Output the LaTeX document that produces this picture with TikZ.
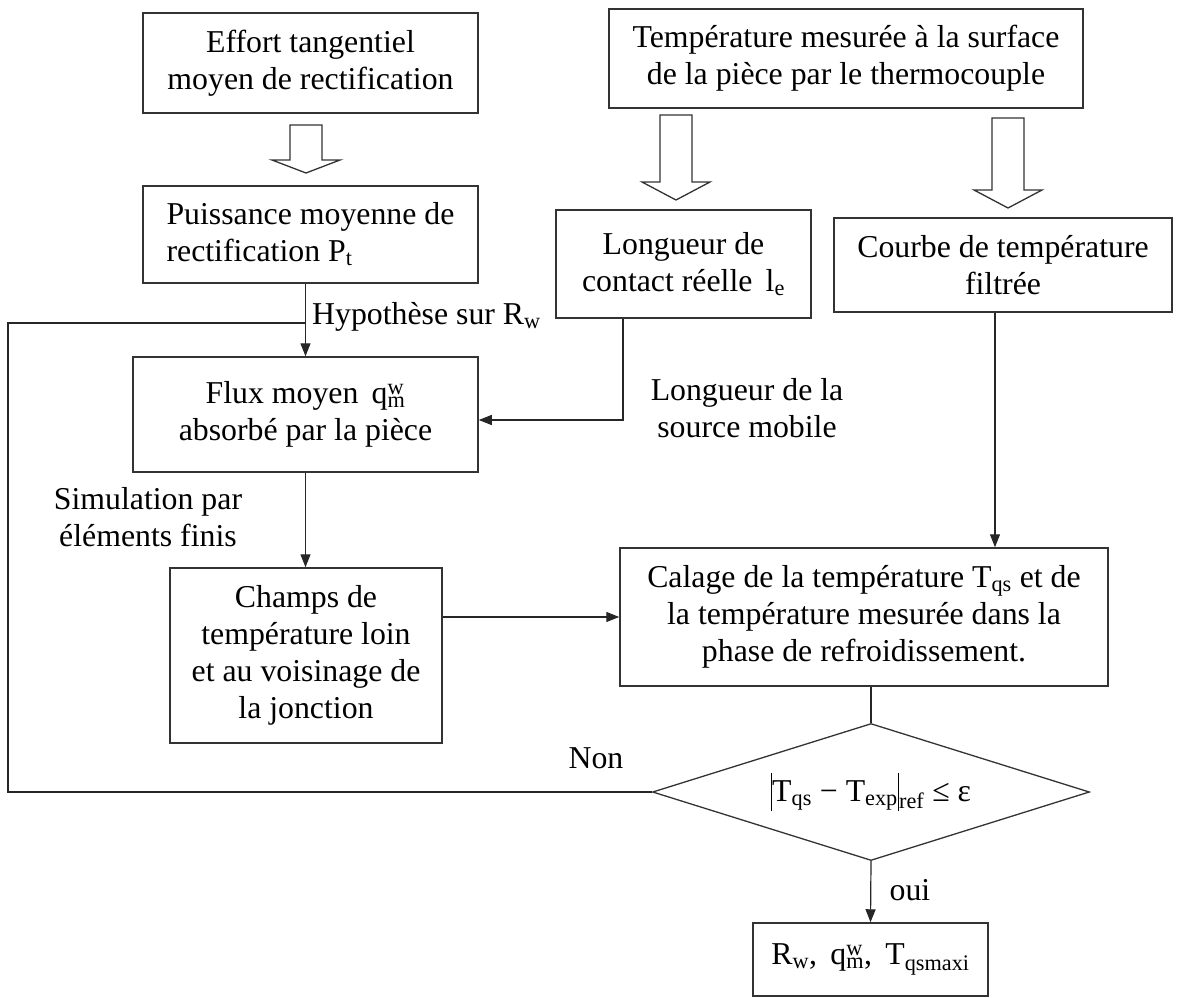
\documentclass[tikz,border=0pt]{standalone}
\usepackage{fontspec}
\setmainfont{Liberation Serif}
\usetikzlibrary{arrows.meta,shapes.geometric}

\newcommand{\flowfont}{\fontsize{31.8pt}{37pt}\selectfont}
\newcommand{\qmw}{q\rlap{\textsuperscript{w}}\textsubscript{m}}
\newcommand{\vbar}{\rule[-0.3em]{1.3pt}{1.2em}}
% hollow arrow: x, top, neck, tip
\newcommand{\hollowarrow}[4]{\draw[hollow] (#1-16,#2) -- (#1+16,#2) -- (#1+16,#3) -- (#1+34,#3) -- (#1,#4) -- (#1-34,#3) -- (#1-16,#3) -- cycle;}

\tikzset{
  box/.style={draw=black!80, line width=1.5pt, align=center, inner sep=0pt, font=\flowfont},
  lbl/.style={align=center, inner sep=0pt, font=\flowfont},
  decision/.style={diamond, aspect=3.19, draw=black!80, line width=1.3pt, inner sep=0pt, font=\flowfont},
  link/.style={draw=black!85, line width=1.2pt},
  arr/.style={link, -{Triangle[length=13pt,width=10pt]}},
  hollow/.style={draw=black!80, line width=1.3pt, fill=white},
}

\begin{document}
\begin{tikzpicture}[x=1pt,y=-1pt]
\useasboundingbox (0,0) rectangle (1177,997);

% left column
\node[box, minimum width=335pt, minimum height=100pt] (eff) at (310.5,63) {Effort tangentiel\\moyen de rectification};
\node[box, align=left, minimum width=335pt, minimum height=97pt] (puis) at (310.5,234.5) {Puissance moyenne de\\rectification P\textsubscript{t}};
\node[box, minimum width=345pt, minimum height=115pt] (flux) at (305.5,414.5) {Flux moyen \,\qmw\\absorbé par la pièce};
\node[box, minimum width=272pt, minimum height=175pt] (cha) at (306,655.5) {Champs de\\température loin\\et au voisinage de\\la jonction};

% right part
\node[box, minimum width=474pt, minimum height=99pt] (temp) at (846,58.5) {Température mesurée à la surface\\de la pièce par le thermocouple};
\node[box, minimum width=255pt, minimum height=108pt] (lon) at (683.5,264) {Longueur de\\contact réelle \,l\textsubscript{e}};
\node[box, minimum width=338pt, minimum height=94pt] (cou) at (1003,265) {Courbe de température\\filtrée};
\node[box, minimum width=488pt, minimum height=138pt] (cal) at (864,617) {Calage de la température T\textsubscript{qs} et de\\la température mesurée dans la\\phase de refroidissement.};
\node[decision, minimum width=437pt, minimum height=137pt] (dia) at (871,792) {\vbar T\textsubscript{qs} − T\textsubscript{exp}\vbar\textsubscript{ref} ≤ ε};
\node[box, minimum width=235pt, minimum height=73pt] (fin) at (870.5,959.5) {R\textsubscript{w}, \,\qmw, \,T\textsubscript{qsmaxi}};

% labels
\node[lbl, anchor=west] (hyp) at (312,317) {Hypothèse sur R\textsubscript{w}};
\node[lbl] (src) at (747,408) {Longueur de la\\source mobile};
\node[lbl] (sim) at (148,517) {Simulation par\\éléments finis};
\node[lbl] (non) at (596,758) {Non};
\node[lbl] (oui) at (910,890) {oui};

% hollow arrows
\hollowarrow{306}{125}{160}{173}
\hollowarrow{676}{115}{182}{200}
\hollowarrow{1008}{118}{190}{208}

% connectors
\coordinate (lk) at (623,420);
\coordinate (back) at (8,323);
\draw[arr] (puis.south -| flux.north) -- (flux.north);
\draw[arr] (lon.south -| lk) -- (lk) -- (lk -| flux.east);
\draw[arr] (flux.south) -- (flux.south |- cha.north);
\draw[arr] ([xshift=-8pt]cou.south) -- ([xshift=-8pt]cou.south |- cal.north);
\draw[arr] (cal.west -| cha.east) -- (cal.west);
\draw[link] (cal.south -| dia.north) -- (dia.north);
\draw[arr] (dia.south) -- (fin.north);
\draw[link] (dia.west) -| (back) -- (back -| flux.north);
\end{tikzpicture}
\end{document}
